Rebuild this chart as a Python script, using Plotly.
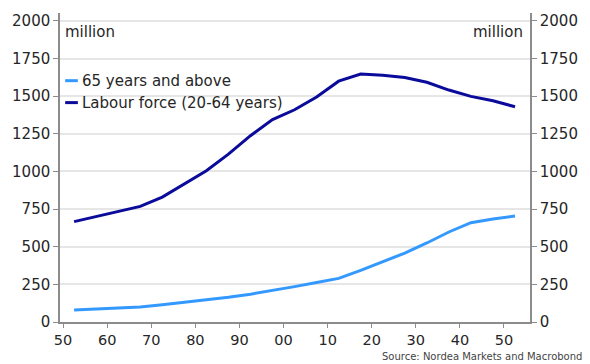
import plotly.graph_objects as go

# Mid-period years (5-year periods)
years = [1952.5, 1957.5, 1962.5, 1967.5, 1972.5, 1977.5, 1982.5, 1987.5, 1992.5,
         1997.5, 2002.5, 2007.5, 2012.5, 2017.5, 2022.5, 2027.5, 2032.5, 2037.5,
         2042.5, 2047.5, 2052.5]

# Population, million
aged_65_plus = [80, 86, 92, 100, 115, 131, 148, 165, 185, 208, 235, 262, 290, 343,
                400, 458, 525, 598, 660, 685, 704]
labour_force = [667, 700, 735, 768, 830, 915, 1005, 1115, 1238, 1345, 1410, 1495,
                1600, 1647, 1640, 1625, 1593, 1541, 1499, 1470, 1430]

x_tick_vals = [1950, 1960, 1970, 1980, 1990, 2000, 2010, 2020, 2030, 2040, 2050]
x_tick_text = ["50", "60", "70", "80", "90", "00", "10", "20", "30", "40", "50"]
y_tick_vals = [0, 250, 500, 750, 1000, 1250, 1500, 1750, 2000]

series_names = ["65 years and above", "Labour force (20-64 years)"]
series_colors = ["#3399ff", "#0a0a9b"]

FONT = "DejaVu Sans, Verdana, sans-serif"
AXIS_GREY = "#8c8c8c"
TEXT = "#262626"
FS = 15

fig = go.Figure()
fig.add_trace(go.Scatter(x=years, y=aged_65_plus, mode="lines", name=series_names[0],
                         line=dict(color=series_colors[0], width=3), showlegend=False))
fig.add_trace(go.Scatter(x=years, y=labour_force, mode="lines", name=series_names[1],
                         line=dict(color=series_colors[1], width=3), showlegend=False,
                         yaxis="y2"))

y_range = [0, 2053]
common_y = dict(range=y_range, tickvals=y_tick_vals, ticks="outside", ticklen=5,
                tickcolor=AXIS_GREY, showline=True, linecolor=AXIS_GREY, linewidth=1.5,
                zeroline=False, tickfont=dict(family=FONT, size=FS, color=TEXT))

fig.update_layout(
    width=590, height=364,
    margin=dict(l=60, r=50, t=12, b=42),
    paper_bgcolor="white", plot_bgcolor="white",
    font=dict(family=FONT, size=FS, color=TEXT),
    xaxis=dict(range=[1949.3, 2055.9], tickvals=x_tick_vals, ticktext=x_tick_text,
               ticks="outside", ticklen=4, tickcolor=AXIS_GREY, showline=True,
               linecolor=AXIS_GREY, linewidth=1.5, showgrid=False, zeroline=False,
               tickfont=dict(family=FONT, size=14.5, color=TEXT)),
    yaxis=dict(side="left", showgrid=True, gridcolor="#e6e6e6", gridwidth=1.5, **common_y),
    yaxis2=dict(side="right", overlaying="y", showgrid=False, **common_y),
)

# Unit labels
fig.add_annotation(text="million", xref="paper", yref="paper", x=0.006, y=0.94,
                   xanchor="left", yanchor="middle", showarrow=False,
                   font=dict(family=FONT, size=FS, color=TEXT))
fig.add_annotation(text="million", xref="paper", yref="paper", x=0.99, y=0.94,
                   xanchor="right", yanchor="middle", showarrow=False,
                   font=dict(family=FONT, size=FS, color=TEXT))

# Legend drawn as short line keys with labels
legend_y = [0.781, 0.71]
for name, color, ly in zip(series_names, series_colors, legend_y):
    fig.add_shape(type="line", xref="paper", yref="paper", x0=0.011, x1=0.038,
                  y0=ly, y1=ly, line=dict(color=color, width=3))
    fig.add_annotation(text=name, xref="paper", yref="paper", x=0.043, y=ly,
                       xanchor="left", yanchor="middle", showarrow=False,
                       font=dict(family=FONT, size=FS, color=TEXT))

# Source note
fig.add_annotation(text="Source: Nordea Markets and Macrobond", xref="paper", yref="paper",
                   x=1.115, y=-0.113, xanchor="right", yanchor="middle", showarrow=False,
                   font=dict(family=FONT, size=10, color="#444444"))

fig.write_html("out.html")
